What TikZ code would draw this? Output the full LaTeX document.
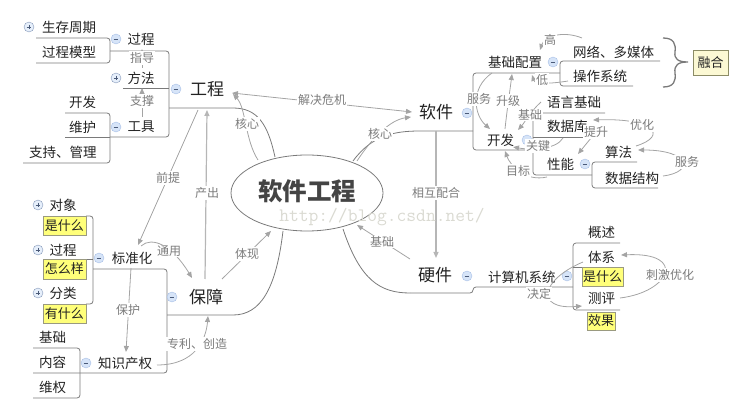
\documentclass[tikz,border=0pt]{standalone}
\usepackage{fontspec}
\setmainfont{Noto Sans CJK SC}
\usetikzlibrary{arrows.meta,decorations.pathreplacing,shapes.geometric}
\definecolor{txt}{HTML}{222222}
\definecolor{lbl}{HTML}{7C7C7C}
\definecolor{ln}{HTML}{7A7A7A}
\definecolor{rl}{HTML}{A4A4A4}
\definecolor{cfill}{HTML}{D6E4F8}
\definecolor{cdraw}{HTML}{A6BEE6}
\definecolor{csign}{HTML}{4A5A78}
\definecolor{ynote}{HTML}{FFFF7A}
\definecolor{ydraw}{HTML}{9A9A80}
\definecolor{rhfill}{HTML}{FCF9D4}
\definecolor{rhdraw}{HTML}{8C8C66}
\definecolor{wm}{HTML}{DADAD2}
\definecolor{rootc}{HTML}{444444}
\begin{document}
\begin{tikzpicture}[x=1pt,y=-1pt,
  big/.style={text=txt, inner sep=0pt, font=\fontsize{17}{17}\selectfont},
  sub/.style={text=txt, inner sep=0pt, font=\fontsize{13.5}{14}\selectfont},
  rlab/.style={text=lbl, fill=white, inner sep=1pt, font=\fontsize{12}{12}\selectfont},
  tree/.style={draw=ln, line width=0.8pt, rounded corners=3pt},
  treeplain/.style={draw=ln, line width=0.8pt},
  rel/.style={draw=rl, line width=0.8pt, -{Triangle[length=6pt,width=5pt]}},
  minusc/.style={circle, draw=cdraw, fill=cfill, minimum size=10pt, inner sep=0pt,
    path picture={\draw[csign, line width=0.6pt] ([xshift=2.6pt]path picture bounding box.west) -- ([xshift=-2.6pt]path picture bounding box.east);}},
  plusc/.style={circle, draw=cdraw!80!black, fill=cfill!60, minimum size=10pt, inner sep=0pt,
    path picture={\draw[csign, line width=0.6pt] ([xshift=2.6pt]path picture bounding box.west) -- ([xshift=-2.6pt]path picture bounding box.east);
      \draw[csign, line width=0.6pt] ([yshift=-2.6pt]path picture bounding box.north) -- ([yshift=2.6pt]path picture bounding box.south);}},
  note/.style={draw=ydraw, fill=ynote, inner sep=0pt, text=txt, font=\fontsize{13}{13}\selectfont}
]
\useasboundingbox (0,0) rectangle (745,414);

% ---------- tree lines ----------
% 工程
\draw[tree] (110,51) -| (169,137) -- (110,137);
\draw[tree] (123,88) -- (169,88);
\draw[treeplain] (169,108) -- (233,108) .. controls (258,108) and (268,125) .. (275,157);
\draw[tree] (36,38) -| (110,63) -- (36,63);
\draw[tree] (65,113) -| (110,163) -- (23,163);
\draw[tree] (65,137) -- (110,137);
% 软件
\draw[treeplain] (353,161) .. controls (372,135) and (395,131) .. (420,131) -- (473,131);
\draw[tree] (560,73) -| (473,150) -- (533,150);
\draw[tree] (660,61) -| (560,86) -- (633,86);
\draw[tree] (605,113) -| (533,175) -- (592,175);
\draw[tree] (533,137) -- (587,137);
\draw[tree] (637,162) -| (592,188) -- (658,188);
% 硬件
\draw[treeplain] (343,229) .. controls (360,280) and (380,293) .. (410,293);
\draw[tree] (410,293) -- (473,293) -- (473,287) -- (573,287);
\draw[tree] (620,243) -| (573,310) -- (620,310);
\draw[tree] (573,267) -- (582,267);
% 保障
\draw[treeplain] (283,231) .. controls (276,290) and (260,315) .. (233,315) -- (167,315);
\draw[tree] (93,269) -| (167,373) -- (33,373);
\draw[tree] (86,216) -| (93,304) -- (86,304);
\draw[tree] (86,259) -- (93,259);
\draw[tree] (33,348) -| (80,398) -- (33,398);

% ---------- root ----------
\node[ellipse, draw=ln, line width=0.8pt, fill=white, minimum width=152pt, minimum height=76pt, inner sep=0pt] (root) at (307,193) {};
\node[text=rootc, inner sep=0pt, font=\fontsize{24.5}{25}\selectfont\bfseries] (roott) at (307,191) {软件工程};

% ---------- main topics ----------
\node[big] (gc) at (207,89) {工程};
\node[minusc] (gcm) at (176,89) {};
\node[big] (rj) at (436,112) {软件};
\node[minusc] (rjm) at (467,113) {};
\node[big] (yj) at (435,275) {硬件};
\node[minusc] (yjm) at (467,276) {};
\node[big] (bz) at (206,297) {保障};
\node[minusc] (bzm) at (172,297) {};

% 工程 subtopics
\node[sub] (guoch) at (141,39) {过程};
\node[minusc] (guochm) at (116,39) {};
\node[sub] (fangfa) at (141,78) {方法};
\node[plusc] (fangfap) at (116,78) {};
\node[sub] (gongju) at (141,127) {工具};
\node[minusc] (gongjum) at (116,127) {};
\node[sub, anchor=west] (scq) at (42,27) {生存周期};
\node[plusc] (scqp) at (29,27) {};
\node[sub, anchor=west] (gcmx) at (42,52) {过程模型};
\node[sub, anchor=west] (kf1) at (69,102) {开发};
\node[sub, anchor=west] (wh) at (69,127) {维护};
\node[sub, anchor=west] (zcgl) at (29,152) {支持、管理};

% 软件 subtopics
\node[sub, anchor=west] (jcpz) at (488,62) {基础配置};
\node[minusc] (jcpzm) at (553,62) {};
\node[sub, anchor=west] (wl) at (573,52) {网络、多媒体};
\node[sub, anchor=west] (czxt) at (573,76) {操作系统};
\node[sub, anchor=west] (kf) at (487,140) {开发};
\node[minusc] (kfm) at (527,140) {};
\node[sub, anchor=west] (yyjc) at (547,102) {语言基础};
\node[sub, anchor=west] (sjk) at (547,126) {数据库};
\node[sub, anchor=west] (xn) at (547,164) {性能};
\node[minusc] (xnm) at (585,164) {};
\node[sub, anchor=west] (sf) at (605,152) {算法};
\node[sub, anchor=west] (sjjg) at (605,178) {数据结构};
\draw[draw=ln, line width=1.3pt] (663,38) .. controls (674,38) and (676,44) .. (675,52)
  .. controls (674,59) and (678,62) .. (688,62)
  .. controls (678,62) and (674,65) .. (675,73)
  .. controls (676,81) and (674,87) .. (663,87);
\node[draw=rhdraw, fill=rhfill, minimum width=35pt, minimum height=25pt, inner sep=0pt, text=txt, font=\fontsize{13}{13}\selectfont] (rh) at (710.5,62.5) {融合};

% 硬件 subtopics
\node[sub, anchor=west] (jsj) at (488,277) {计算机系统};
\node[minusc] (jsjm) at (567,276) {};
\node[sub, anchor=west] (gs) at (588,232) {概述};
\node[sub, anchor=west] (tx) at (588,257) {体系};
\node[note, minimum width=41pt, minimum height=19pt] (n1) at (602.5,276.5) {是什么};
\node[sub, anchor=west] (cp) at (588,298) {测评};
\node[note, minimum width=28pt, minimum height=18pt] (n2) at (601,321) {效果};

% 保障 subtopics
\node[sub] (bzh) at (132,258) {标准化};
\node[minusc] (bzhm) at (99,258) {};
\node[sub] (zscq) at (125,363) {知识产权};
\node[minusc] (zscqm) at (86,363) {};
\node[sub] (dx) at (63,205) {对象};
\node[plusc] (dxp) at (38,205) {};
\node[note, minimum width=43pt, minimum height=19pt] (n3) at (64.5,225.5) {是什么};
\node[sub] (gc2) at (63,250) {过程};
\node[plusc] (gc2p) at (38,250) {};
\node[note, minimum width=43pt, minimum height=20pt] (n4) at (64.5,269) {怎么样};
\node[sub] (fl) at (63,293) {分类};
\node[plusc] (flp) at (38,293) {};
\node[note, minimum width=43pt, minimum height=19pt] (n5) at (64.5,313.5) {有什么};
\node[sub, anchor=west] (jc2) at (39,337) {基础};
\node[sub, anchor=west] (nr) at (39,362) {内容};
\node[sub, anchor=west] (wq) at (39,387) {维权};

% ---------- relations ----------
\draw[rel] (258,160) .. controls (245,140) and (246,108) .. (233,94);
\draw[rel, {Triangle[length=6pt,width=5pt]}-{Triangle[length=6pt,width=5pt]}] (232,93) -- (412,112);
\draw[rel] (357,161) .. controls (372,138) and (390,120) .. (411,117);
\draw[rel, line width=1.2pt, draw=rl!80] (205,279) -- (207,110);
\draw[rel] (198,110) -- (138,245);
\draw[rel] (222,279) -- (271,231);
\draw[rel] (141,246) .. controls (152,236) and (172,245) .. (192,278);
\draw[rel] (131,268) -- (126,352);
\draw[rel] (157,365) .. controls (195,365) and (206,340) .. (208,316);
\draw[rel] (142,68) -- (142,49);
\draw[rel] (142,117) -- (142,88);
\draw[rel] (492,73) .. controls (470,88) and (474,115) .. (490,129);
\draw[rel] (505,129) .. controls (507,110) and (510,90) .. (512,74);
\draw[rel] (582,38) .. controls (565,31) and (545,35) .. (540,50);
\draw[rel] (568,81) .. controls (550,84) and (535,84) .. (532,75);
\draw[rel] (541,102) .. controls (530,112) and (525,122) .. (518,130);
\draw[rel] (563,138) .. controls (556,150) and (530,150) .. (513,147);
\draw[rel] (547,177) .. controls (525,182) and (510,165) .. (505,151);
\draw[rel] (636,146) .. controls (668,136) and (655,118) .. (593,120);
\draw[rel] (600,127) -- (578,154);
\draw[rel] (663,176) .. controls (695,172) and (690,150) .. (638,150);
\draw[rel, line width=1.2pt, draw=rl!80] (436,131) -- (436,258);
\draw[rel] (410,259) -- (357,225);
\draw[rel] (583,262) .. controls (540,280) and (535,310) .. (582,306);
\draw[rel] (620,298) .. controls (670,292) and (688,252) .. (621,255);

% ---------- relation labels ----------
\node[rlab] (l1) at (247,124) {核心};
\node[rlab] (l2) at (322,100) {解决危机};
\node[rlab] (l3) at (380,134) {核心};
\node[rlab] (l4) at (207,193) {产出};
\node[rlab] (l5) at (168,178) {前提};
\node[rlab] (l6) at (247,254) {体现};
\node[rlab] (l7) at (169,251) {通用};
\node[rlab] (l8) at (128,310) {保护};
\node[rlab] (l9) at (197,344) {专利、创造};
\node[rlab] (l10) at (142,58) {指导};
\node[rlab] (l11) at (142,101) {支撑};
\node[rlab] (l12) at (479,99) {服务};
\node[rlab] (l13) at (508,101) {升级};
\node[rlab] (l14) at (550,40) {高};
\node[rlab] (l15) at (542,80) {低};
\node[rlab] (l16) at (530,115) {基础};
\node[rlab] (l17) at (538,146) {关键};
\node[rlab] (l18) at (518,171) {目标};
\node[rlab] (l19) at (642,125) {优化};
\node[rlab] (l20) at (596,132) {提升};
\node[rlab] (l21) at (687,162) {服务};
\node[rlab] (l22) at (436,193) {相互配合};
\node[rlab] (l23) at (382,242) {基础};
\node[rlab] (l24) at (539,294) {决定};
\node[rlab] (l25) at (670,275) {刺激优化};

% watermark
\node[text=wm, inner sep=0pt, font=\ttfamily\fontsize{19}{19}\selectfont] (wmark) at (382,217) {http://blog.csdn.net/};
\end{tikzpicture}
\end{document}
